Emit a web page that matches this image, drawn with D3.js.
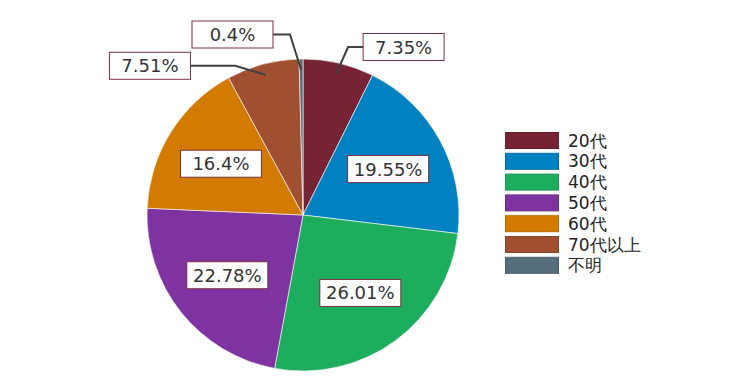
<!DOCTYPE html>
<html>
<head>
<meta charset="utf-8">
<script src="https://cdn.jsdelivr.net/npm/d3@7"></script>
<style>
  body { margin: 0; background: #fff; }
  text { font-family: "DejaVu Sans", Verdana, sans-serif; }
</style>
</head>
<body>
<svg id="chart"></svg>
<script>
// data
var categories = ["20代", "30代", "40代", "50代", "60代", "70代以上", "不明"];
var values = [7.35, 19.55, 26.01, 22.78, 16.4, 7.51, 0.4];
var colors = ["#762433", "#0081c2", "#1cae5c", "#7e33a0", "#d27b00", "#a04f31", "#566e7a"];

// small slices get their label outside with a leader line
// (elbow angle offset in degrees, elbow radius factor, horizontal run, side)
var outside = {
    "20代": {da: 1.8, rf: 1.115, run: 15, side: 1},
    "70代以上": {da: -9.4, rf: 1.05, run: 45, side: -1},
    "不明": {da: -3.4, rf: 1.16, run: 17, side: -1}
};

var width = 750, height = 392;
var cx = 303, cy = 215, radius = 156;
var boxW = 81, boxH = 27;

var svg = d3.select("#chart")
    .attr("width", width)
    .attr("height", height);

var pie = d3.pie().sort(null).value(function (d) { return d.v; });
var arc = d3.arc().innerRadius(0).outerRadius(radius);

var data = categories.map(function (c, i) { return {c: c, v: values[i], color: colors[i]}; });
var arcs = pie(data);

var g = svg.append("g").attr("transform", "translate(" + cx + "," + cy + ")");

g.selectAll(".slice")
    .data(arcs)
    .enter().append("path")
    .attr("class", "slice")
    .attr("d", arc)
    .attr("fill", function (d) { return d.data.color; })
    .attr("stroke", "rgba(255,255,255,0.6)")
    .attr("stroke-width", 1);

function polar(a, r) {
    return [Math.sin(a) * r, -Math.cos(a) * r];
}

var fmt = function (v) { return v + "%"; };

arcs.forEach(function (d) {
    var mid = (d.startAngle + d.endAngle) / 2;
    var o = outside[d.data.c];
    var lx, ly;
    if (o) {
        var p0 = polar(mid, radius * 0.93);
        var p1 = polar(mid + o.da * Math.PI / 180, radius * o.rf);
        var p2 = [p1[0] + o.side * o.run, p1[1]];
        g.append("polyline")
            .attr("points", [p0, p1, p2].map(function (p) { return p.join(","); }).join(" "))
            .attr("fill", "none")
            .attr("stroke", "#404040")
            .attr("stroke-width", 2);
        lx = p2[0] + o.side * boxW / 2;
        ly = p2[1];
    } else {
        var pc = polar(mid, radius * 0.62);
        lx = pc[0];
        ly = pc[1];
    }
    g.append("rect")
        .attr("x", lx - boxW / 2)
        .attr("y", ly - boxH / 2)
        .attr("width", boxW)
        .attr("height", boxH)
        .attr("fill", "#fff")
        .attr("stroke", "#7a2f42")
        .attr("stroke-width", 1);
    g.append("text")
        .attr("x", lx)
        .attr("y", ly)
        .attr("dy", "0.36em")
        .attr("text-anchor", "middle")
        .attr("fill", "#333")
        .style("font-size", "18px")
        .text(fmt(d.data.v));
});

// legend
var legend = svg.append("g").attr("transform", "translate(505,132)");
var item = legend.selectAll(".item")
    .data(data)
    .enter().append("g")
    .attr("class", "item")
    .attr("transform", function (d, i) { return "translate(0," + (i * 20.8) + ")"; });

item.append("rect")
    .attr("x", 0.5)
    .attr("y", 0.5)
    .attr("width", 53)
    .attr("height", 16)
    .attr("fill", function (d) { return d.color; })
    .attr("stroke", function (d) { return d3.color(d.color).darker(0.4); })
    .attr("stroke-width", 1);

item.append("text")
    .attr("x", 63)
    .attr("y", 8.5)
    .attr("dy", "0.36em")
    .attr("fill", "#222")
    .style("font-size", "17px")
    .text(function (d) { return d.c; });
</script>
</body>
</html>
